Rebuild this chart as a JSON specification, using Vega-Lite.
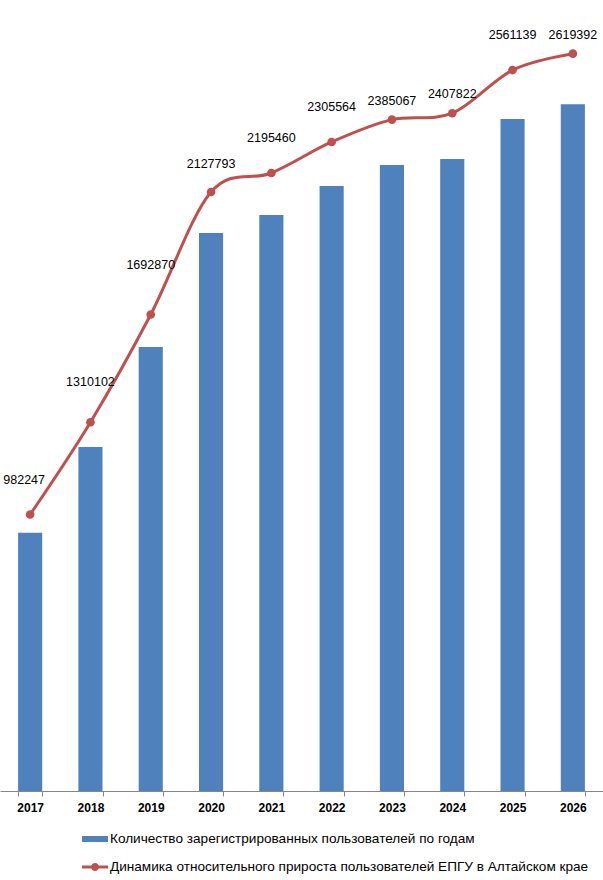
{
  "$schema": "https://vega.github.io/schema/vega-lite/v6.json",
  "width": 603,
  "height": 791,
  "autosize": {"type": "none"},
  "padding": {"top": 0, "left": 0, "right": 0, "bottom": 89},
  "background": "white",
  "config": {
    "view": {"stroke": null},
    "font": "Liberation Sans",
    "text": {"font": "Liberation Sans"}
  },
  "data": {
    "values": [
      {"year": "2017", "users": 917600, "total": 982247},
      {"year": "2018", "users": 1222000, "total": 1310102},
      {"year": "2019", "users": 1577000, "total": 1692870},
      {"year": "2020", "users": 1982000, "total": 2127793},
      {"year": "2021", "users": 2046000, "total": 2195460},
      {"year": "2022", "users": 2149000, "total": 2305564},
      {"year": "2023", "users": 2224000, "total": 2385067},
      {"year": "2024", "users": 2245000, "total": 2407822},
      {"year": "2025", "users": 2387000, "total": 2561139},
      {"year": "2026", "users": 2440000, "total": 2619392}
    ]
  },
  "encoding": {
    "x": {
      "field": "year",
      "type": "ordinal",
      "scale": {"paddingInner": 0.6, "paddingOuter": 0.3},
      "axis": {
        "title": null,
        "labelAngle": 0,
        "labelFontSize": 12,
        "labelFontWeight": "bold",
        "labelColor": "#000000",
        "labelPadding": 6,
        "domainColor": "#868686",
        "tickColor": "#868686",
        "tickSize": 5,
        "tickBand": "extent"
      }
    }
  },
  "layer": [
    {
      "mark": {"type": "bar", "color": "#4f81bd"},
      "encoding": {
        "y": {
          "field": "users",
          "type": "quantitative",
          "scale": {"domain": [0, 2810000]},
          "axis": null
        },
        "fill": {
          "datum": "Количество зарегистрированных пользователей по годам",
          "scale": {"range": ["#4f81bd"]},
          "legend": {
            "title": null,
            "orient": "none",
            "legendX": 82,
            "legendY": 826,
            "padding": 0,
            "symbolType": "M-1,-0.23H1V0.23H-1Z",
            "symbolSize": 676,
            "symbolStrokeWidth": 0,
            "labelFont": "Liberation Sans",
            "labelFontSize": 13.6,
            "labelColor": "#000000",
            "labelOffset": 2,
            "labelLimit": 0
          }
        }
      }
    },
    {
      "mark": {"type": "line", "interpolate": "cardinal", "strokeWidth": 3},
      "encoding": {
        "y": {"field": "total", "type": "quantitative", "scale": {"domain": [0, 2810000]}, "axis": null},
        "stroke": {
          "datum": "Динамика относительного прироста пользователей ЕПГУ в Алтайском крае",
          "scale": {"range": ["#c0504d"]},
          "legend": {
            "title": null,
            "orient": "none",
            "legendX": 82,
            "legendY": 854,
            "padding": 0,
            "symbolType": "M-1,-0.12H1V0.12H-1Z M-0.31,0A0.31,0.31 0 1,1 0.31,0A0.31,0.31 0 1,1 -0.31,0Z",
            "symbolSize": 676,
            "symbolStrokeWidth": 0,
            "symbolFillColor": "#c0504d",
            "labelFont": "Liberation Sans",
            "labelFontSize": 13.6,
            "labelColor": "#000000",
            "labelOffset": 2,
            "labelLimit": 0
          }
        }
      }
    },
    {
      "mark": {"type": "point", "filled": true, "size": 75, "color": "#c0504d", "opacity": 1},
      "encoding": {
        "y": {"field": "total", "type": "quantitative", "scale": {"domain": [0, 2810000]}, "axis": null}
      }
    },
    {
      "transform": [{"filter": {"field": "year", "oneOf": ["2019"]}}],
      "mark": {"type": "text", "dy": -49, "fontSize": 12.5, "color": "#000000"},
      "encoding": {
        "y": {"field": "total", "type": "quantitative", "scale": {"domain": [0, 2810000]}, "axis": null},
        "text": {"field": "total", "type": "quantitative", "format": "d"}
      }
    },
    {
      "transform": [{"filter": {"field": "year", "oneOf": ["2018"]}}],
      "mark": {"type": "text", "dy": -40, "fontSize": 12.5, "color": "#000000"},
      "encoding": {
        "y": {"field": "total", "type": "quantitative", "scale": {"domain": [0, 2810000]}, "axis": null},
        "text": {"field": "total", "type": "quantitative", "format": "d"}
      }
    },
    {
      "transform": [{"filter": {"field": "year", "oneOf": ["2017"]}}],
      "mark": {"type": "text", "dy": -35, "dx": -6, "fontSize": 12.5, "color": "#000000"},
      "encoding": {
        "y": {"field": "total", "type": "quantitative", "scale": {"domain": [0, 2810000]}, "axis": null},
        "text": {"field": "total", "type": "quantitative", "format": "d"}
      }
    },
    {
      "transform": [{"filter": {"field": "year", "oneOf": ["2021", "2022", "2025"]}}],
      "mark": {"type": "text", "dy": -35, "fontSize": 12.5, "color": "#000000"},
      "encoding": {
        "y": {"field": "total", "type": "quantitative", "scale": {"domain": [0, 2810000]}, "axis": null},
        "text": {"field": "total", "type": "quantitative", "format": "d"}
      }
    },
    {
      "transform": [{"filter": {"field": "year", "oneOf": ["2020"]}}],
      "mark": {"type": "text", "dy": -28, "fontSize": 12.5, "color": "#000000"},
      "encoding": {
        "y": {"field": "total", "type": "quantitative", "scale": {"domain": [0, 2810000]}, "axis": null},
        "text": {"field": "total", "type": "quantitative", "format": "d"}
      }
    },
    {
      "transform": [{"filter": {"field": "year", "oneOf": ["2023", "2024", "2026"]}}],
      "mark": {"type": "text", "dy": -19, "fontSize": 12.5, "color": "#000000"},
      "encoding": {
        "y": {"field": "total", "type": "quantitative", "scale": {"domain": [0, 2810000]}, "axis": null},
        "text": {"field": "total", "type": "quantitative", "format": "d"}
      }
    }
  ]
}
